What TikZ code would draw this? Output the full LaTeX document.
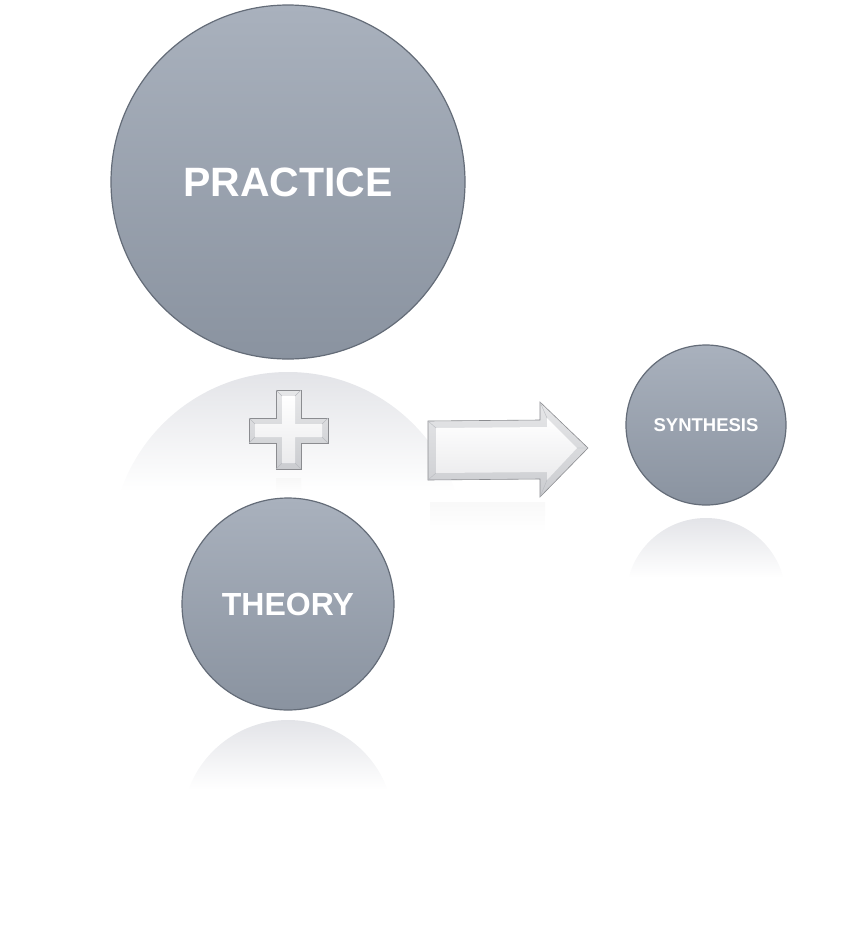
\documentclass[tikz,border=0pt]{standalone}
\usepackage{fontspec}
\setmainfont{Liberation Sans}
\usetikzlibrary{positioning}
\definecolor{discTop}{HTML}{A9B1BD}
\definecolor{discBot}{HTML}{8A93A0}
\definecolor{discRim}{HTML}{646C78}
\definecolor{mirror}{HTML}{E3E4E8}
\definecolor{bevel}{HTML}{B9BBC0}
\definecolor{face}{HTML}{F4F4F6}

\begin{document}
\begin{tikzpicture}[x=1pt,y=-1pt,
  disc/.style={circle,draw=discRim,line width=1.2pt,top color=discTop,bottom color=discBot,
               inner sep=0pt,text=white,font=\bfseries},
  refl/.style={top color=mirror,bottom color=white},
  edge3d/.style={draw=bevel!75!black,line width=0.6pt,top color=bevel!35,bottom color=bevel!75},
  face3d/.style={top color=white,bottom color=face!92!gray}]
\useasboundingbox (0,0) rectangle (845,938);
% reflections under the discs
\begin{scope}
  \clip (288,549) circle (177);
  \shade[refl] (100,372) rectangle (480,492);
\end{scope}
\begin{scope}
  \clip (288,826) circle (106);
  \shade[refl] (170,720) rectangle (410,790);
\end{scope}
\begin{scope}
  \clip (706,598) circle (80);
  \shade[refl] (620,518) rectangle (800,578);
\end{scope}
\shade[top color=gray!5,bottom color=white] (430,502) rectangle (545,532);
\shade[top color=gray!6,bottom color=white] (276,478) rectangle (301,494);
% discs
\node[disc,minimum size=354pt,font=\fontsize{41}{41}\selectfont\bfseries] (practice) at (288,182) {PRACTICE};
\node[disc,minimum size=212pt,font=\fontsize{32}{32}\selectfont\bfseries] (theory) at (288,604) {THEORY};
\node[disc,minimum size=160pt,font=\fontsize{18.5}{18.5}\selectfont\bfseries] (synthesis) at (706,425) {SYNTHESIS};
% plus sign
\draw[edge3d] (276,390) -- (301,390) -- (301,418) -- (328,418) -- (328,443) -- (301,443)
  -- (301,469) -- (276,469) -- (276,443) -- (249,443) -- (249,418) -- (276,418) -- cycle;
\shade[face3d] (282,396) -- (295,396) -- (295,424) -- (322,424) -- (322,437) -- (295,437)
  -- (295,463) -- (282,463) -- (282,437) -- (255,437) -- (255,424) -- (282,424) -- cycle;
\draw[bevel,line width=0.4pt] (276,390) -- (282,396) (301,390) -- (295,396) (328,418) -- (322,424)
  (328,443) -- (322,437) (301,469) -- (295,463) (276,469) -- (282,463) (249,418) -- (255,424)
  (249,443) -- (255,437);
% block arrow
\draw[edge3d] (428,421) -- (540,420) -- (540,402) -- (588,448) -- (540,497) -- (540,479)
  -- (428,480) -- cycle;
\shade[face3d] (436,428) -- (547,427) -- (547,418) -- (577,448) -- (547,480) -- (547,472)
  -- (436,473) -- cycle;
\draw[bevel,line width=0.4pt] (428,421) -- (436,428) (428,480) -- (436,473) (540,402) -- (547,418)
  (588,448) -- (577,448) (540,497) -- (547,480);
\end{tikzpicture}
\end{document}
